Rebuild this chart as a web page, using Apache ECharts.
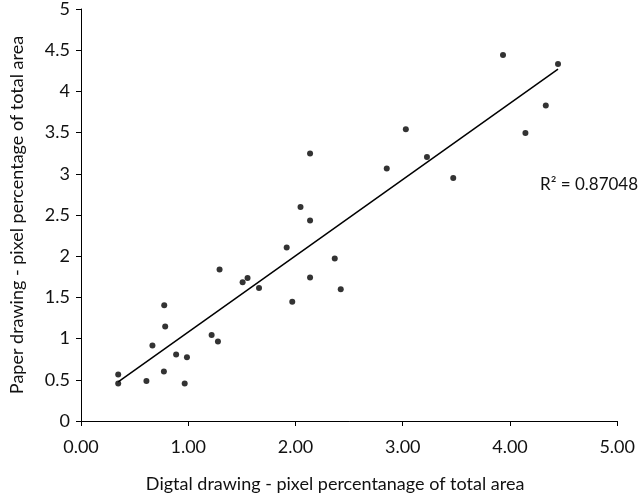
<!DOCTYPE html>
<html>
<head>
<meta charset="utf-8">
<script src="https://cdn.jsdelivr.net/npm/echarts@6/dist/echarts.min.js"></script>
<style>
  html, body { margin: 0; padding: 0; background: #fff; }
  #chart { width: 638px; height: 498px; }
</style>
</head>
<body>
<div id="chart"></div>
<script>
// digital drawing (x) vs paper drawing (y), pixel percentage of total area
var digital = [0.347, 0.347, 0.61, 0.773, 0.967, 0.887, 0.988, 0.666, 0.785, 0.776,
  1.218, 1.277, 1.507, 1.553, 1.66, 1.292, 1.97, 1.918, 2.136, 2.366,
  2.422, 2.047, 2.136, 2.136, 2.851, 3.226, 3.471, 3.029, 3.935, 4.448,
  4.334, 4.144];
var paper = [0.563, 0.454, 0.486, 0.602, 0.454, 0.807, 0.775, 0.916, 1.148, 1.406,
  1.045, 0.964, 1.683, 1.735, 1.614, 1.84, 1.446, 2.105, 1.743, 1.972,
  1.598, 2.598, 2.434, 3.245, 3.064, 3.205, 2.948, 3.542, 4.442, 4.334,
  3.828, 3.494];
var rSquaredText = 'R² = 0.87048';

// least squares line through the points
var n = digital.length, sx = 0, sy = 0, sxx = 0, sxy = 0;
for (var i = 0; i < n; i++) {
  sx += digital[i]; sy += paper[i];
  sxx += digital[i] * digital[i]; sxy += digital[i] * paper[i];
}
var slope = (n * sxy - sx * sy) / (n * sxx - sx * sx);
var intercept = (sy - slope * sx) / n;
var xMin = Math.min.apply(null, digital), xMax = Math.max.apply(null, digital);
var trend = [[xMin, intercept + slope * xMin], [xMax, intercept + slope * xMax]];

var points = digital.map(function (d, i) { return [d, paper[i]]; });

var font = 'Lato, "Open Sans", sans-serif';
var chart = echarts.init(document.getElementById('chart'));
chart.setOption({
  animation: false,
  grid: { left: 77, right: 18, top: 6, bottom: 77 },
  xAxis: {
    type: 'value', min: 0, max: 5, interval: 1,
    name: 'Digtal drawing - pixel percentanage of total area',
    nameLocation: 'middle', nameGap: 54,
    nameTextStyle: { color: '#111', fontSize: 18, fontFamily: font, padding: [0, 28, 0, 0] },
    axisLine: { lineStyle: { color: '#000', width: 1 } },
    axisTick: { show: true, length: 5, lineStyle: { color: '#000' } },
    axisLabel: { color: '#111', fontSize: 18, fontFamily: font, margin: 17,
      formatter: function (v) { return v.toFixed(2); } },
    splitLine: { show: false }
  },
  yAxis: {
    type: 'value', min: 0, max: 5, interval: 0.5,
    name: 'Paper drawing - pixel percentage of total area',
    nameLocation: 'middle', nameGap: 55,
    nameTextStyle: { color: '#111', fontSize: 18, fontFamily: font },
    axisLine: { show: true, lineStyle: { color: '#000', width: 1 } },
    axisTick: { show: true, length: 5, lineStyle: { color: '#000' } },
    axisLabel: { color: '#111', fontSize: 18, fontFamily: font, margin: 11 },
    splitLine: { show: false }
  },
  graphic: [{
    type: 'text', left: 540, top: 176,
    style: { text: rSquaredText, fill: '#111', fontSize: 17, fontFamily: font }
  }],
  series: [{
    type: 'scatter', data: points, symbolSize: 6,
    itemStyle: { color: '#000' }
  }, {
    type: 'line', data: trend, showSymbol: false,
    lineStyle: { color: '#000', width: 1.5 }
  }]
});
</script>
</body>
</html>
